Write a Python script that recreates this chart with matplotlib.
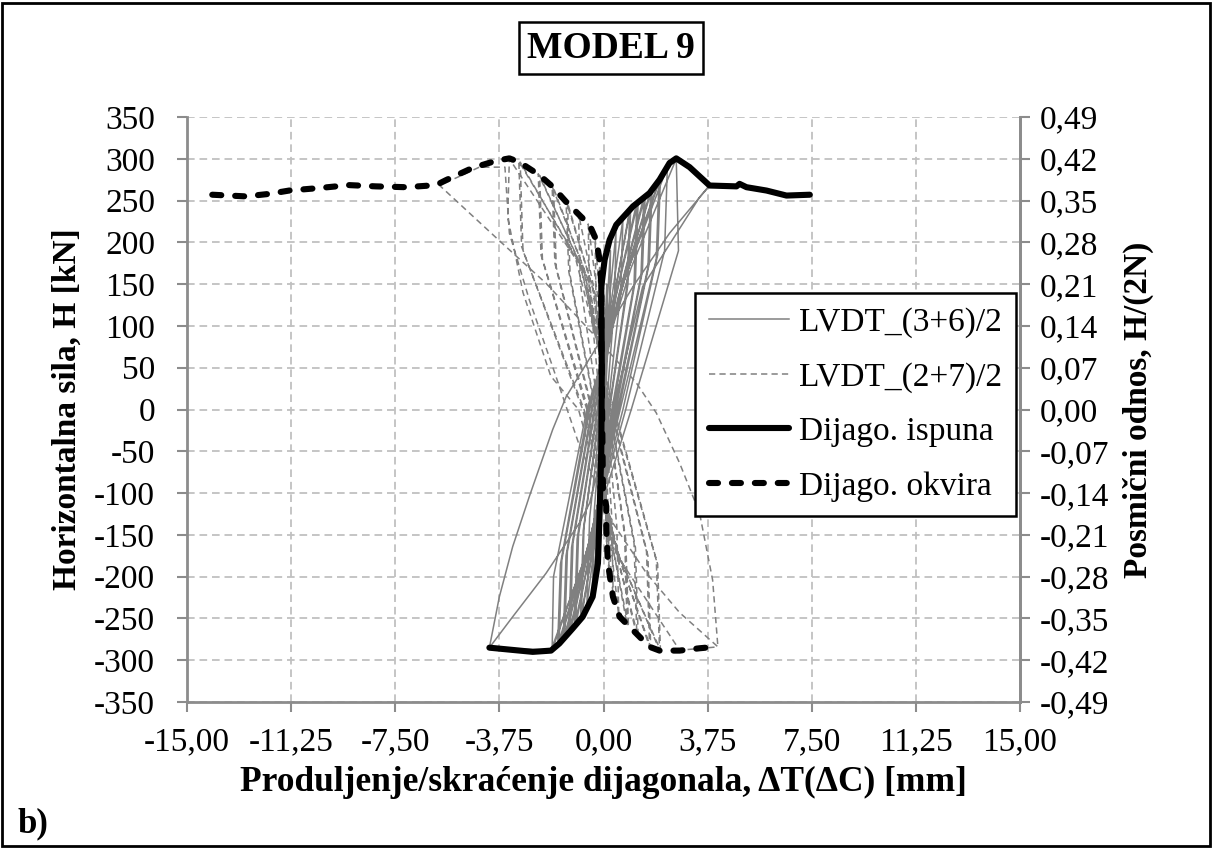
import matplotlib
matplotlib.use('Agg')
import matplotlib.pyplot as plt
from matplotlib.patches import Rectangle
import numpy as np

plt.rcParams['font.family'] = ['Liberation Serif', 'DejaVu Serif']
plt.rcParams['lines.scale_dashes'] = False

# LVDT_(3+6)/2 - thin grey loops (mm, kN)
lvdt36_x = [0.0,
            0.02, 0.03, 0.02, 0.0, -0.02, -0.03, -0.01, 0.01,
            0.04, 0.06, 0.05, 0.01, -0.04, -0.06, -0.04, 0.0,
            0.06, 0.12, 0.10, 0.02, -0.07, -0.12, -0.09, 0.0,
            0.10, 0.25, 0.22, 0.05, -0.10, -0.22, -0.18, -0.02,
            0.15, 0.45, 0.40, 0.10, -0.15, -0.40, -0.33, -0.05,
            0.20, 0.70, 0.62, 0.15, -0.20, -0.60, -0.50, -0.08,
            0.30, 0.95, 0.85, 0.20, -0.25, -0.80, -0.70, -0.12,
            0.33, 0.98, 0.88, 0.22, -0.28, -0.83, -0.73, -0.14,
            0.40, 1.20, 1.10, 0.30, -0.35, -1.00, -0.90, -0.20,
            0.45, 1.25, 1.15, 0.35, -0.38, -1.05, -0.95, -0.22,
            0.50, 1.45, 1.35, 0.40, -0.40, -1.20, -1.10, -0.30,
            0.55, 1.50, 1.40, 0.45, -0.45, -1.25, -1.15, -0.33,
            0.60, 1.70, 1.60, 0.50, -0.50, -1.40, -1.30, -0.40,
            0.65, 1.75, 1.65, 0.55, -0.55, -1.45, -1.35, -0.43,
            0.70, 2.00, 1.90, 0.60, -0.60, -1.60, -1.50, -0.50,
            0.75, 2.05, 1.95, 0.70, -0.65, -1.65, -1.55, -0.55,
            0.80, 2.30, 2.20, 0.80, -0.70, -1.85, -1.80, -0.60,
            1.00, 2.62, 2.70, 1.00, -0.80, -1.89,
            -4.11, -3.75, -3.27, -2.67, -1.83, -1.35, -0.39, 0.34, 1.06, 2.38, 3.82,
            3.46, 1.41, 0.50, -0.50, -0.87, -2.07, -3.27, -4.11]
lvdt36_h = [0,
            40, 60, 30, 0, -40, -60, -30, 0,
            70, 110, 60, 0, -70, -110, -60, 0,
            90, 150, 90, 0, -90, -150, -90, 0,
            110, 190, 120, 0, -110, -185, -110, 0,
            110, 212, 130, 0, -120, -215, -120, 0,
            110, 228, 140, 0, -130, -235, -130, 0,
            120, 240, 150, 0, -140, -250, -140, 0,
            125, 242, 150, 0, -145, -252, -145, 0,
            130, 248, 150, 0, -150, -258, -150, 0,
            135, 250, 155, 0, -155, -260, -155, 0,
            130, 254, 160, 0, -150, -266, -160, 0,
            135, 256, 165, 0, -155, -268, -165, 0,
            140, 262, 170, 0, -160, -274, -170, 0,
            145, 264, 175, 0, -165, -276, -175, 0,
            150, 274, 180, 0, -170, -281, -180, 0,
            155, 276, 185, 0, -175, -282, -185, 0,
            160, 290, 190, 0, -180, -288, -200, 0,
            170, 300, 190, 0, -190, -288,
            -285, -224, -164, -104, -24, 15, 67, 107, 147, 211, 268,
            254, 147, 20, -112, -136, -196, -248, -285]

# LVDT_(2+7)/2 - thin grey dashed loops (mm, kN)
lvdt27_x = [0.0,
            -0.02, -0.03, -0.02, 0.0, 0.01, 0.02, 0.01, 0.0,
            -0.04, -0.06, -0.05, 0.0, 0.03, 0.05, 0.04, 0.0,
            -0.07, -0.14, -0.12, -0.02, 0.06, 0.12, 0.10, 0.01,
            -0.10, -0.30, -0.27, -0.05, 0.08, 0.20, 0.17, 0.03,
            -0.15, -0.55, -0.50, -0.10, 0.10, 0.35, 0.30, 0.05,
            -0.25, -0.90, -0.83, -0.18, 0.15, 0.55, 0.48, 0.08,
            -0.35, -1.30, -1.20, -0.28, 0.20, 0.85, 0.76, 0.12,
            -0.38, -1.35, -1.25, -0.30, 0.22, 0.90, 0.80, 0.13,
            -0.50, -1.80, -1.70, -0.40, 0.30, 1.20, 1.10, 0.18,
            -0.55, -1.85, -1.75, -0.43, 0.33, 1.25, 1.15, 0.20,
            -0.65, -2.30, -2.20, -0.55, 0.40, 1.66, 1.55, 0.25,
            -0.70, -2.35, -2.25, -0.60, 0.43, 1.70, 1.60, 0.28,
            -0.80, -3.00, -2.90, -0.70, 0.50, 2.02, 1.90, 0.35,
            -0.85, -3.05, -2.95, -0.75, 0.55, 2.05, 1.95, 0.38,
            -1.00, -3.39, -3.45, -2.90, -1.90, -0.90, 0.60, 2.74,
            3.46, 4.12, 2.74, 1.55, 0.34, -0.90, -1.83, -2.67, -3.39, -3.55, -4.47, -5.90,
            -3.75, -2.07, -0.39, 1.18, 1.90, 2.74, 3.46, 3.93, 4.12]
lvdt27_h = [0,
            40, 60, 30, 0, -40, -60, -30, 0,
            70, 110, 60, 0, -70, -110, -60, 0,
            100, 170, 100, 0, -100, -170, -100, 0,
            120, 205, 130, 0, -110, -200, -120, 0,
            120, 222, 140, 0, -120, -225, -130, 0,
            130, 234, 150, 0, -130, -246, -140, 0,
            140, 248, 160, 0, -140, -258, -150, 0,
            145, 250, 165, 0, -145, -260, -155, 0,
            150, 265, 170, 0, -150, -270, -160, 0,
            155, 267, 175, 0, -155, -272, -165, 0,
            160, 280, 180, 0, -160, -284, -170, 0,
            165, 282, 185, 0, -165, -285, -175, 0,
            170, 296, 190, 0, -170, -288, -180, 0,
            175, 297, 195, 0, -175, -288, -185, 0,
            180, 300, 230, 140, 40, 0, -180, -288,
            -286, -284, -243, -196, -136, -40, 51, 131, 211, 290, 290, 268,
            202, 151, 91, 32, -4, -64, -124, -204, -284]

# Dijago. ispuna - envelope (thick solid black)
ispuna_x = [-4.11, -2.55, -1.89, -1.59, -1.11, -0.75, -0.39, -0.20, -0.14, -0.08, -0.06,
            -0.08, 0.04, 0.22, 0.46, 1.06, 1.66, 2.02, 2.38, 2.62, 3.10, 3.82,
            4.79, 4.90, 5.15, 5.87, 6.59, 7.43]
ispuna_h = [-285, -290, -288.5, -280, -262, -248, -224, -184, -124, -50, 50,
            147, 179, 203, 221, 243, 259, 275, 295, 300.5, 290, 268,
            267, 270, 266, 262, 256, 257]

# Dijago. okvira - envelope (thick dashed black)
okvira_x = [-14.09, -12.88, -12.04, -11.32, -10.24, -9.16, -8.20, -7.11, -6.03, -5.67,
            -4.72, -3.87, -3.39, -3.03, -2.31, -1.83, -1.35, -0.87, -0.50, -0.26,
            -0.14, -0.08, -0.08, -0.02, 0.10, 0.10, 0.16, 0.34, 0.58, 1.18, 1.66,
            2.02, 2.74, 3.46, 4.12]
okvira_h = [257, 255, 258, 262, 265, 268.5, 267, 266, 268.5, 274.5,
            289, 297.6, 300.5, 296, 280.5, 266.5, 248.6, 232.7, 220.7, 202.8,
            178.8, 151, 91, -96, -116, -144, -184, -224, -248, -268, -284,
            -288.5, -288.5, -285.7, -283.7]

x_ticks = [-15.0, -11.25, -7.5, -3.75, 0.0, 3.75, 7.5, 11.25, 15.0]
h_ticks = list(range(-350, 351, 50))
ratio_ticks = [-0.49, -0.42, -0.35, -0.28, -0.21, -0.14, -0.07, 0.0,
               0.07, 0.14, 0.21, 0.28, 0.35, 0.42, 0.49]

fig = plt.figure(figsize=(12.12, 8.48), dpi=100)
ax = fig.add_axes([187/1212, 1 - 702/848, (1020 - 187)/1212, (702 - 117)/848])

grey = '#808080'
ax.plot(lvdt36_x, lvdt36_h, color=grey, lw=1.1, label='LVDT_(3+6)/2', zorder=2)
ax.plot(lvdt27_x, lvdt27_h, color=grey, lw=1.1, dashes=(4.5, 3), label='LVDT_(2+7)/2', zorder=2)
ax.plot(ispuna_x, ispuna_h, color='black', lw=4.4, solid_capstyle='round',
        label='Dijago. ispuna', zorder=3)
ax.plot(okvira_x, okvira_h, color='black', lw=4.4, dashes=(6.5, 10), dash_capstyle='round',
        label='Dijago. okvira', zorder=3)

ax.set_xlim(-15, 15)
ax.set_ylim(-350, 350)
ax.set_xticks(x_ticks)
ax.set_xticklabels([f'{v:.2f}'.replace('.', ',') for v in x_ticks])
ax.set_yticks(h_ticks)
ax.set_yticklabels([str(v) for v in h_ticks])
ax.set_axisbelow(True)
ax.grid(True, color='#c0c0c0', lw=1.3, dashes=(5.5, 3.5))

spine_c = '#8c8c8c'
for s in ['left', 'bottom', 'right']:
    ax.spines[s].set_color(spine_c)
    ax.spines[s].set_linewidth(2)
ax.spines['top'].set_visible(False)
ax.tick_params(axis='both', which='major', labelsize=24, color=spine_c,
               width=1.5, length=7, direction='out')
ax.tick_params(axis='y', pad=16)
ax.tick_params(axis='x', pad=11)

ax2 = ax.twinx()
ax2.set_ylim(-0.49, 0.49)
ax2.set_yticks(ratio_ticks)
ax2.set_yticklabels([f'{v:.2f}'.replace('.', ',') for v in ratio_ticks])
ax2.spines['right'].set_color(spine_c)
ax2.spines['right'].set_linewidth(2)
for s in ['left', 'top', 'bottom']:
    ax2.spines[s].set_visible(False)
ax2.tick_params(axis='y', labelsize=24, color=spine_c, width=1.5, length=7, pad=7)

ax.set_xlabel('Produljenje/skraćenje dijagonala, ΔT(ΔC) [mm]', fontsize=25.5,
              fontweight='bold', labelpad=6)
ax.set_ylabel('Horizontalna sila, H [kN]', fontsize=24, fontweight='bold', labelpad=8)
ax2.set_ylabel('Posmični odnos, H/(2N)', fontsize=24, fontweight='bold', labelpad=10)

handles, labels = ax.get_legend_handles_labels()
leg = ax2.legend(handles, labels, loc='upper left', bbox_to_anchor=(695/1212, 1 - 293/848),
                 bbox_transform=fig.transFigure, borderaxespad=0, fontsize=24,
                 frameon=True, fancybox=False, framealpha=1, edgecolor='black',
                 handlelength=2.4, handletextpad=0.3, labelspacing=0.72, borderpad=0.42)
leg.get_frame().set_linewidth(1.8)

fig.text(611/1212, 1 - 48/848, 'MODEL 9', fontsize=27, fontweight='bold',
         ha='center', va='center',
         bbox=dict(boxstyle='square,pad=0.22', fc='white', ec='black', lw=1.8))
fig.text(18/1212, 1 - 824/848, 'b)', fontsize=25, fontweight='bold', ha='left', va='center')

fig.patches.append(Rectangle((0.002, 0.002), 0.996, 0.995, transform=fig.transFigure,
                             fill=False, lw=2, ec='black'))

fig.savefig('out.png', dpi=100)
